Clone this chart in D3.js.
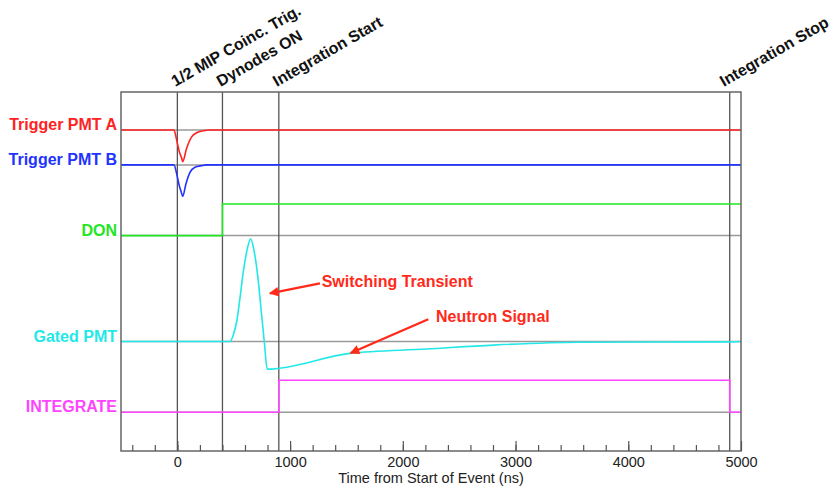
<!DOCTYPE html>
<html>
<head>
<meta charset="utf-8">
<script src="https://cdn.jsdelivr.net/npm/d3@7"></script>
<style>
  body { margin: 0; background: #fff; }
  svg { display: block; font-family: "Liberation Sans", Arial, Helvetica, sans-serif; }
  .chan-label, .marker-label, .note { font-weight: bold; }
</style>
</head>
<body>
<div id="chart"></div>
<script>
// time axis (ns)
const timeTicks = [0, 1000, 2000, 3000, 4000, 5000];

// channels, their colours and resting levels (arbitrary units, 0-100 scale)
const channels = ["Trigger PMT A", "Trigger PMT B", "DON", "Gated PMT", "INTEGRATE"];
const channelColors = ["#ff2222", "#2233ff", "#22e622", "#22e8e8", "#ff44ff"];
const baselines = [89.4, 79.7, 60.0, 30.5, 10.8];

// traces (time ns, offset from baseline)
const pmtATime = [-500, -30, -6, 17, 38, 47, 82, 127, 171, 230, 289, 5000];
const pmtAValue = [0, 0, -2.8, -6.0, -7.8, -8.8, -5.1, -1.9, -0.75, -0.2, 0, 0];
const pmtBTime = [-500, -30, -6, 17, 35, 47, 76, 112, 156, 216, 260, 5000];
const pmtBValue = [0, 0, -2.5, -5.8, -7.6, -8.8, -5.3, -2.1, -0.67, -0.2, 0, 0];
const donTime = [-500, 400, 400, 5000];
const donValue = [0, 0, 8.8, 8.8];
const gatedTime = [-500, 467, 496, 526, 555, 585, 615, 650, 682, 712, 742, 771, 797, 1531, 2211, 2802, 3571, 4875, 5000];
const gatedValue = [0, 0, 1.8, 5.5, 12.0, 19.4, 25.0, 28.6, 25.0, 18.5, 9.2, 0, -7.7, -3.3, -2.1, -1.0, -0.2, -0.1, 0];
const integrateTime = [-500, 900, 900, 4900, 4900, 5000];
const integrateValue = [0, 0, 8.9, 8.9, 0, 0];

// timing markers
const markerTimes = [0, 400, 900, 4900];
const markerLabels = ["1/2 MIP Coinc. Trig.", "Dynodes ON", "Integration Start", "Integration Stop"];

// annotations: text, text position, arrow tail, arrow tip (time, level)
const noteTexts = ["Switching Transient", "Neutron Signal"];
const noteTextPos = [[1280, 45.6], [2294, 36.0]];
const noteTail = [[1265, 46.7], [2226, 36.7]];
const noteTip = [[821, 43.9], [1537, 27.3]];

const width = 833;
const height = 492;
const margin = { top: 92, right: 92, bottom: 41, left: 121 };
const w = width - margin.left - margin.right;
const h = height - margin.top - margin.bottom;

const svg = d3.select('#chart')
    .append('svg')
    .attr('width', width)
    .attr('height', height);

svg.append('defs').append('marker')
    .attr('id', 'arrow')
    .attr('viewBox', '0 0 10 10')
    .attr('refX', 9)
    .attr('refY', 5)
    .attr('markerWidth', 5)
    .attr('markerHeight', 4)
    .attr('markerUnits', 'strokeWidth')
    .attr('orient', 'auto')
    .append('path')
    .attr('d', 'M0,0L10,5L0,10Z')
    .attr('fill', '#ff2a1a');

const chart = svg.append('g')
    .attr('transform', `translate(${margin.left},${margin.top})`);

const x = d3.scaleLinear().domain([-500, 5000]).range([0, w]);
const y = d3.scaleLinear().domain([0, 100]).range([h, 0]);

// grey resting levels
chart.selectAll('.base')
    .data(baselines)
    .enter()
    .append('line')
    .attr('x1', 0)
    .attr('x2', w)
    .attr('y1', d => y(d))
    .attr('y2', d => y(d))
    .attr('stroke', '#9a9a9a')
    .attr('stroke-width', 1.5);

// timing markers
chart.selectAll('.marker')
    .data(markerTimes)
    .enter()
    .append('line')
    .attr('x1', d => x(d))
    .attr('x2', d => x(d))
    .attr('y1', 0)
    .attr('y2', h)
    .attr('stroke', '#555')
    .attr('stroke-width', 1.3);

// traces
const traces = [
    [pmtATime, pmtAValue, d3.curveMonotoneX],
    [pmtBTime, pmtBValue, d3.curveMonotoneX],
    [donTime, donValue, d3.curveLinear],
    [gatedTime, gatedValue, d3.curveMonotoneX],
    [integrateTime, integrateValue, d3.curveLinear]
];

traces.forEach((tr, i) => {
    const pts = tr[0].map((t, j) => [t, baselines[i] + tr[1][j]]);
    const line = d3.line()
        .x(d => x(d[0]))
        .y(d => y(d[1]))
        .curve(tr[2]);
    chart.append('path')
        .datum(pts)
        .attr('d', line)
        .attr('fill', 'none')
        .attr('stroke', channelColors[i])
        .attr('stroke-width', 1.6);
});

// frame
chart.append('rect')
    .attr('width', w)
    .attr('height', h)
    .attr('fill', 'none')
    .attr('stroke', '#666')
    .attr('stroke-width', 1.5);

// bottom axis, ticks pointing inward
const minor = d3.axisBottom(x)
    .tickValues(d3.range(-400, 5000, 200))
    .tickSize(-6)
    .tickFormat('');
chart.append('g')
    .attr('transform', `translate(0,${h})`)
    .call(minor)
    .call(g => g.select('.domain').remove())
    .call(g => g.selectAll('line').attr('stroke', '#555').attr('stroke-width', 1.2));

const xAxis = d3.axisBottom(x)
    .tickValues(timeTicks)
    .tickSize(-10)
    .tickPadding(6)
    .tickFormat(d3.format('d'));
chart.append('g')
    .attr('transform', `translate(0,${h})`)
    .call(xAxis)
    .call(g => g.select('.domain').remove())
    .call(g => g.selectAll('line').attr('stroke', '#555').attr('stroke-width', 1.2))
    .call(g => g.selectAll('text')
        .attr('fill', '#222')
        .style('font-family', '"Liberation Sans", Arial, sans-serif')
        .style('font-size', '14.5px'));

chart.append('text')
    .attr('x', w / 2)
    .attr('y', h + 32)
    .attr('text-anchor', 'middle')
    .attr('fill', '#222')
    .style('font-size', '14.5px')
    .text('Time from Start of Event (ns)');

// channel names on the left
chart.selectAll('.chan-label')
    .data(channels)
    .enter()
    .append('text')
    .classed('chan-label', true)
    .attr('x', -4)
    .attr('y', (d, i) => y(baselines[i]))
    .attr('text-anchor', 'end')
    .attr('fill', (d, i) => channelColors[i])
    .style('font-size', '16px')
    .text(d => d);

// slanted marker labels
const labels = chart.selectAll('.marker-label')
    .data(markerLabels)
    .enter()
    .append('text')
    .classed('marker-label', true)
    .attr('fill', '#111')
    .style('font-size', '16px')
    .text(d => d);

labels.each(function (d, i) {
    const len = this.getComputedTextLength();
    const ang = 30 * Math.PI / 180;
    let lx = x(markerTimes[i]) - 2;
    // keep the last label inside the picture
    const maxX = width - margin.left - 3 - len * Math.cos(ang);
    lx = Math.min(lx, maxX);
    d3.select(this).attr('transform', `translate(${lx},-5) rotate(-30)`);
});

// annotations
noteTexts.forEach((t, i) => {
    chart.append('line')
        .attr('x1', x(noteTail[i][0]))
        .attr('y1', y(noteTail[i][1]))
        .attr('x2', x(noteTip[i][0]))
        .attr('y2', y(noteTip[i][1]))
        .attr('stroke', '#ff2a1a')
        .attr('stroke-width', 2.4)
        .attr('marker-end', 'url(#arrow)');
    chart.append('text')
        .classed('note', true)
        .attr('x', x(noteTextPos[i][0]))
        .attr('y', y(noteTextPos[i][1]))
        .attr('fill', '#ff2a1a')
        .style('font-size', '16px')
        .text(t);
});
</script>
</body>
</html>
